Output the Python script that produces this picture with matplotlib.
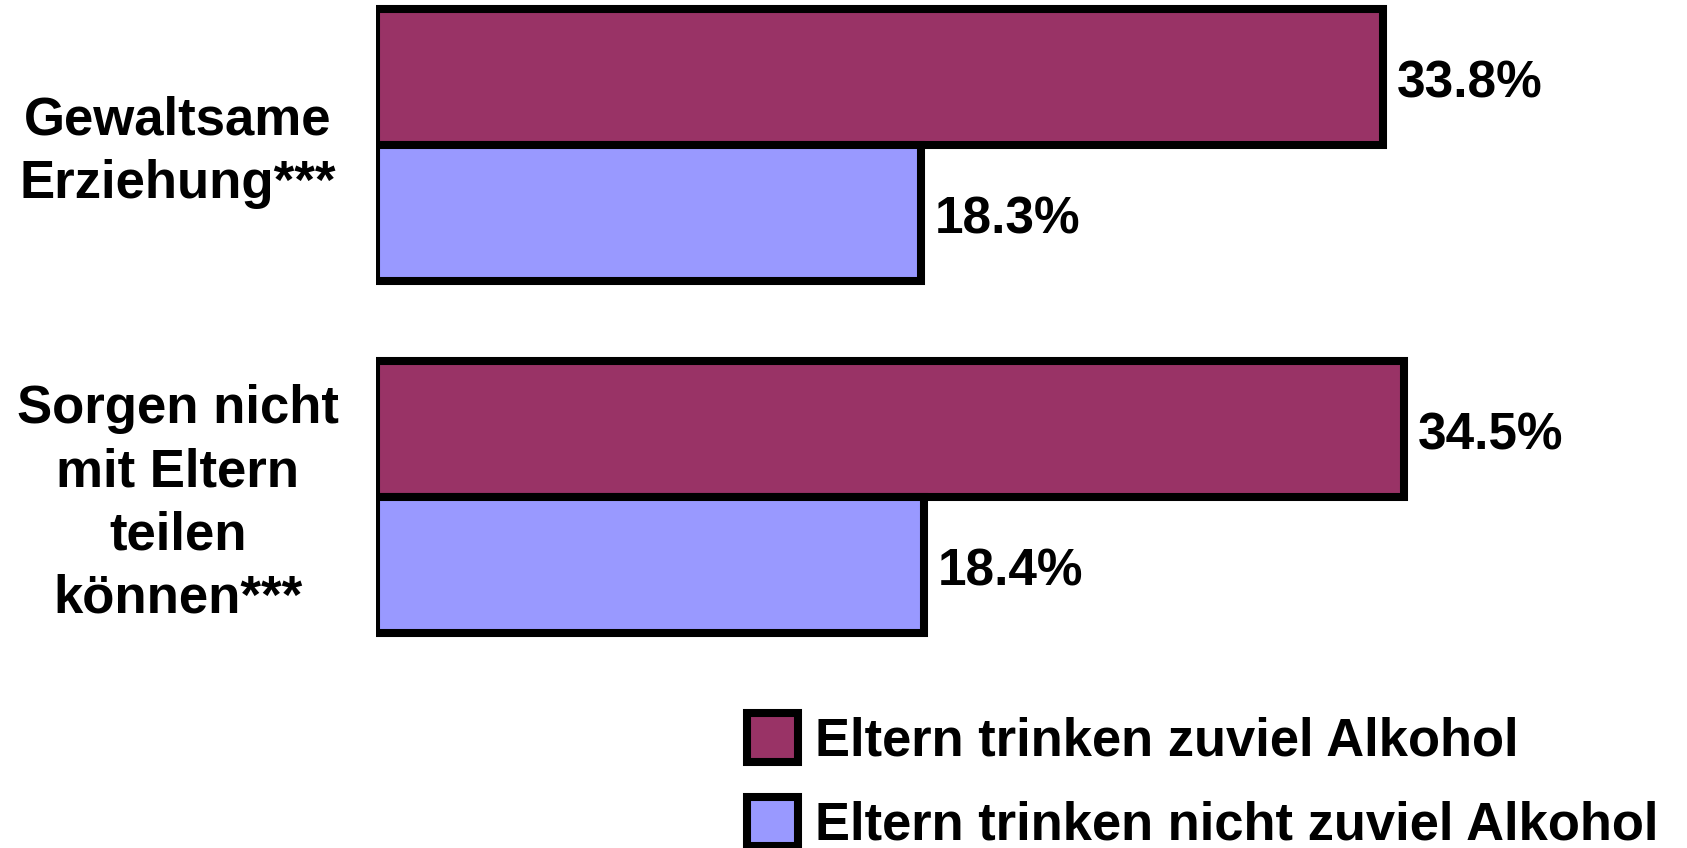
import matplotlib.pyplot as plt
from matplotlib.transforms import blended_transform_factory

categories = ['Gewaltsame\nErziehung***', 'Sorgen nicht\nmit Eltern\nteilen\nkönnen***']
series = ['Eltern trinken zuviel Alkohol', 'Eltern trinken nicht zuviel Alkohol']
too_much = [33.8, 34.5]
not_too_much = [18.3, 18.4]
colors = ['#993366', '#9999ff']

plt.rcParams['font.family'] = ['Liberation Sans', 'DejaVu Sans']
plt.rcParams['font.weight'] = 'bold'

W, H = 1687, 848
fig = plt.figure(figsize=(W / 100, H / 100), dpi=100)
left = 376
ax = fig.add_axes([left / W, 0, 1 - left / W, 1])
ax.set_xlim(0, (W - left) / 29.8)
ax.set_ylim((H - 145) / 352, -145 / 352)
ax.axis('off')

h = 0.385
ypos = [0, 1]
b1 = ax.barh([y - h / 2 for y in ypos], too_much, height=h, color=colors[0],
             edgecolor='black', linewidth=5.8, label=series[0])
b2 = ax.barh([y + h / 2 for y in ypos], not_too_much, height=h, color=colors[1],
             edgecolor='black', linewidth=5.8, label=series[1])

for bars, vals in [(b1, too_much), (b2, not_too_much)]:
    for bar, v in zip(bars, vals):
        ax.text(v + 0.45, bar.get_y() + bar.get_height() / 2 + 0.02, f'{v}%',
                va='center', ha='left', fontsize=37, fontweight='bold')

tr = blended_transform_factory(fig.transFigure, ax.transData)
for y, cat in zip(ypos, categories):
    ax.text(178 / W, y + 0.02, cat, transform=tr, ha='center', va='center',
            multialignment='center', fontsize=38, fontweight='bold', linespacing=1.34)

leg = ax.legend(handles=[b1, b2], loc='upper left', frameon=False,
                bbox_to_anchor=(747 / W, 1 - 713 / H), bbox_transform=fig.transFigure,
                prop={'weight': 'bold', 'size': 37.8},
                handlelength=0.97, handleheight=1.07, labelspacing=0.58, handletextpad=0.33,
                borderpad=0, borderaxespad=0)

fig.savefig('out.png', dpi=100)
